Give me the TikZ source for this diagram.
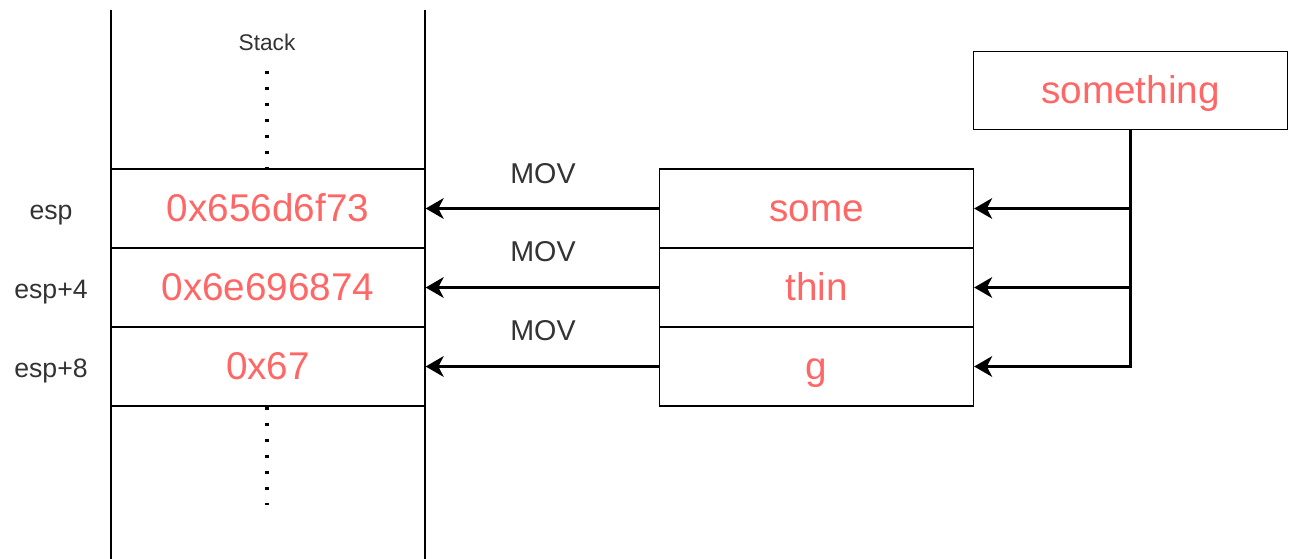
\documentclass[tikz,border=0pt]{standalone}
\usepackage{fontspec}
\setmainfont{Liberation Sans}
\usetikzlibrary{arrows.meta}
\definecolor{val}{HTML}{FF6666}
\definecolor{ink}{HTML}{333333}

\begin{document}
\begin{tikzpicture}[x=0.75pt,y=-0.75pt,
  cell/.style={draw=black, line width=1pt, minimum width=235.5pt,
    minimum height=59.25pt, inner sep=0pt,
    text height=26pt, text depth=6.6pt,
    font=\fontsize{29}{34}\selectfont, text=val},
  arr/.style={line width=2.1pt, -{Stealth[length=13.5pt,width=15.5pt,inset=4pt]}},
  lbl/.style={anchor=base, font=\fontsize{20}{24}\selectfont, text=ink},
  movlbl/.style={font=\fontsize{21.5}{26}\selectfont, text=ink},
  dots/.style={line width=2.5pt, dash pattern=on 2.5pt off 9.5pt}]
\useasboundingbox (0,0) rectangle (1289,559);

% stack walls
\coordinate (wl1) at (111,10);
\coordinate (wl2) at (111,559);
\coordinate (wr1) at (425,10);
\coordinate (wr2) at (425,559);
\draw[line width=1pt] (wl1) -- (wl2);
\draw[line width=1pt] (wr1) -- (wr2);

\node[font=\fontsize{17}{20}\selectfont, text=ink] (stk) at (267,42) {Stack};

% stack cells
\node[cell] (c1) at (268,208.5) {0x656d6f73};
\node[cell] (c2) at (268,287.5) {0x6e696874};
\node[cell] (c3) at (268,366.5) {0x67};

% register offsets
\node[lbl] (e1) at (51,220) {esp};
\node[lbl] (e2) at (51,299) {esp+4};
\node[lbl] (e3) at (51,377.5) {esp+8};

% continuation dots
\coordinate (dt1) at (267,71);
\coordinate (dt2) at (267,169);
\coordinate (db1) at (267,407);
\coordinate (db2) at (267,505);
\draw[dots] (dt1) -- (dt2);
\draw[dots] (db1) -- (db2);

% string pieces
\node[cell] (r1) at (816.5,208.5) {some};
\node[cell] (r2) at (816.5,287.5) {thin};
\node[cell] (r3) at (816.5,366.5) {g};
\node[cell, minimum height=58.5pt] (sth) at (1130.5,90.5) {something};

% moves into the stack
\draw[arr] (r1.west) -- (c1.east);
\draw[arr] (r2.west) -- (c2.east);
\draw[arr] (r3.west) -- (c3.east);
\node[movlbl] (m1) at (543,174) {MOV};
\node[movlbl] (m2) at (543,252) {MOV};
\node[movlbl] (m3) at (543,331) {MOV};

% splitting the string
\draw[arr] (sth.south) |- (r1.east);
\draw[arr] (sth.south) |- (r2.east);
\draw[arr] (sth.south) |- (r3.east);
\end{tikzpicture}
\end{document}
